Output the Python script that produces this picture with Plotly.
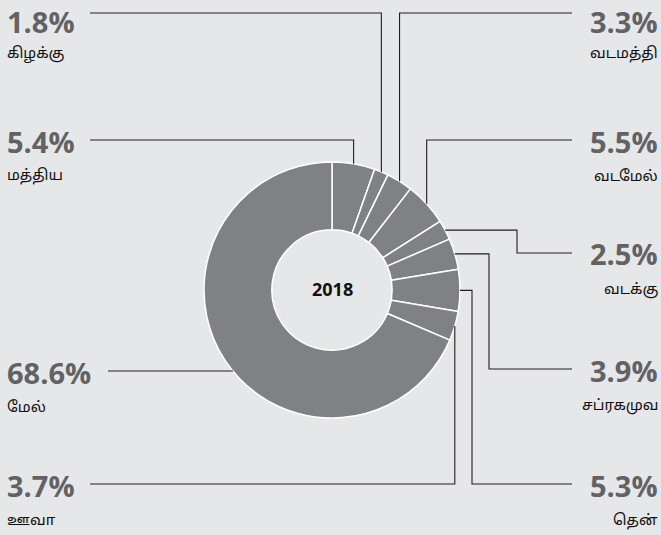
import math
import plotly.graph_objects as go

# ---- data ----
regions = ["மத்திய", "கிழக்கு", "வடமத்தி", "வடமேல்", "வடக்கு", "சப்ரகமுவ", "தென்", "ஊவா", "மேல்"]
shares = [5.4, 1.8, 3.3, 5.5, 2.5, 3.9, 5.3, 3.7, 68.6]
year_label = "2018"

# ---- layout constants ----
W, H = 661, 535
CX, CY, R = 332, 290, 128
HOLE = 0.47
BG = "#e6e7e8"
SLICE = "#808184"
LINE = "#231f20"
PCT = "#626264"
PCT_SIZE = 29


def px(x):
    return x / W


def py(y):
    return 1 - y / H


# label placement: side, label y (pixel), connector route
label_cfg = {
    "மத்திய": dict(side="L", y=140),
    "கிழக்கு": dict(side="L", y=13, top=True),
    "வடமத்தி": dict(side="R", y=13, top=True),
    "வடமேல்": dict(side="R", y=140),
    "வடக்கு": dict(side="R", y=253, elbow=517),
    "சப்ரகமுவ": dict(side="R", y=369, elbow=489),
    "தென்": dict(side="R", y=484, elbow=472),
    "ஊவா": dict(side="L", y=484, down=True),
    "மேல்": dict(side="L", y=371, edge=True),
}
L_LINE_X = 90
R_LINE_X = 572

fig = go.Figure(go.Pie(
    labels=regions,
    values=shares,
    sort=False,
    direction="clockwise",
    rotation=0,
    hole=HOLE,
    textinfo="none",
    marker=dict(colors=[SLICE] * len(shares), line=dict(color="white", width=1.5)),
    domain=dict(x=[px(CX - R), px(CX + R)], y=[py(CY + R), py(CY - R)]),
    showlegend=False,
    hoverinfo="label+percent",
))

shapes = []
annotations = []
total = sum(shares)
cum = 0.0
for name, val in zip(regions, shares):
    mid = (cum + val / 2) / total * 2 * math.pi
    cum += val
    ax = CX + R * math.sin(mid)
    ay = CY - R * math.cos(mid)
    c = label_cfg[name]
    ly = c["y"]
    if "elbow" in c:
        pts = [(ax, ay), (c["elbow"], ay), (c["elbow"], ly), (R_LINE_X, ly)]
    elif c.get("down"):
        pts = [(ax, ay), (ax, ly), (L_LINE_X, ly)]
    elif c.get("edge"):
        ex = CX - math.sqrt(R * R - (ly - CY) ** 2)
        pts = [(108, ly), (ex, ly)]
    else:
        end_x = L_LINE_X if c["side"] == "L" else R_LINE_X
        pts = [(end_x, ly), (ax, ly), (ax, ay)]
    path = "M " + " L ".join(f"{px(x):.5f},{py(y):.5f}" for x, y in pts)
    shapes.append(dict(type="path", xref="paper", yref="paper", path=path,
                       line=dict(color=LINE, width=1.1)))

    if c["side"] == "L":
        xa, anchor = px(5), "left"
    else:
        xa, anchor = px(660), "right"
    if c.get("top"):
        pct_y, pct_anchor = 1.0, "top"
        name_y, name_anchor = py(40), "top"
    else:
        pct_y, pct_anchor = py(ly + 1), "middle"
        name_y, name_anchor = py(ly + 35), "middle"
    annotations.append(dict(
        x=xa, y=pct_y, xref="paper", yref="paper", xanchor=anchor, yanchor=pct_anchor,
        text=f"<b>{val:.1f}%</b>", showarrow=False,
        font=dict(family="Open Sans", size=PCT_SIZE, color=PCT),
    ))
    annotations.append(dict(
        x=xa, y=name_y, xref="paper", yref="paper", xanchor=anchor, yanchor=name_anchor,
        text=name, showarrow=False,
        font=dict(family="Noto Sans, Noto Sans Tamil", size=15, color="#111111"),
    ))

annotations.append(dict(
    x=px(CX), y=py(CY - 1), xref="paper", yref="paper", xanchor="center", yanchor="middle",
    text="<b>" + year_label + "</b>", showarrow=False,
    font=dict(family="Open Sans", size=18, color="#111111"),
))

fig.update_layout(
    width=W, height=H,
    margin=dict(l=0, r=0, t=0, b=0),
    paper_bgcolor=BG, plot_bgcolor=BG,
    shapes=shapes, annotations=annotations,
)

fig.write_html(
    "out.html",
    config={"displayModeBar": False},
    post_script="document.body.style.margin='0';document.body.style.padding='0';document.body.style.overflow='hidden';",
)
